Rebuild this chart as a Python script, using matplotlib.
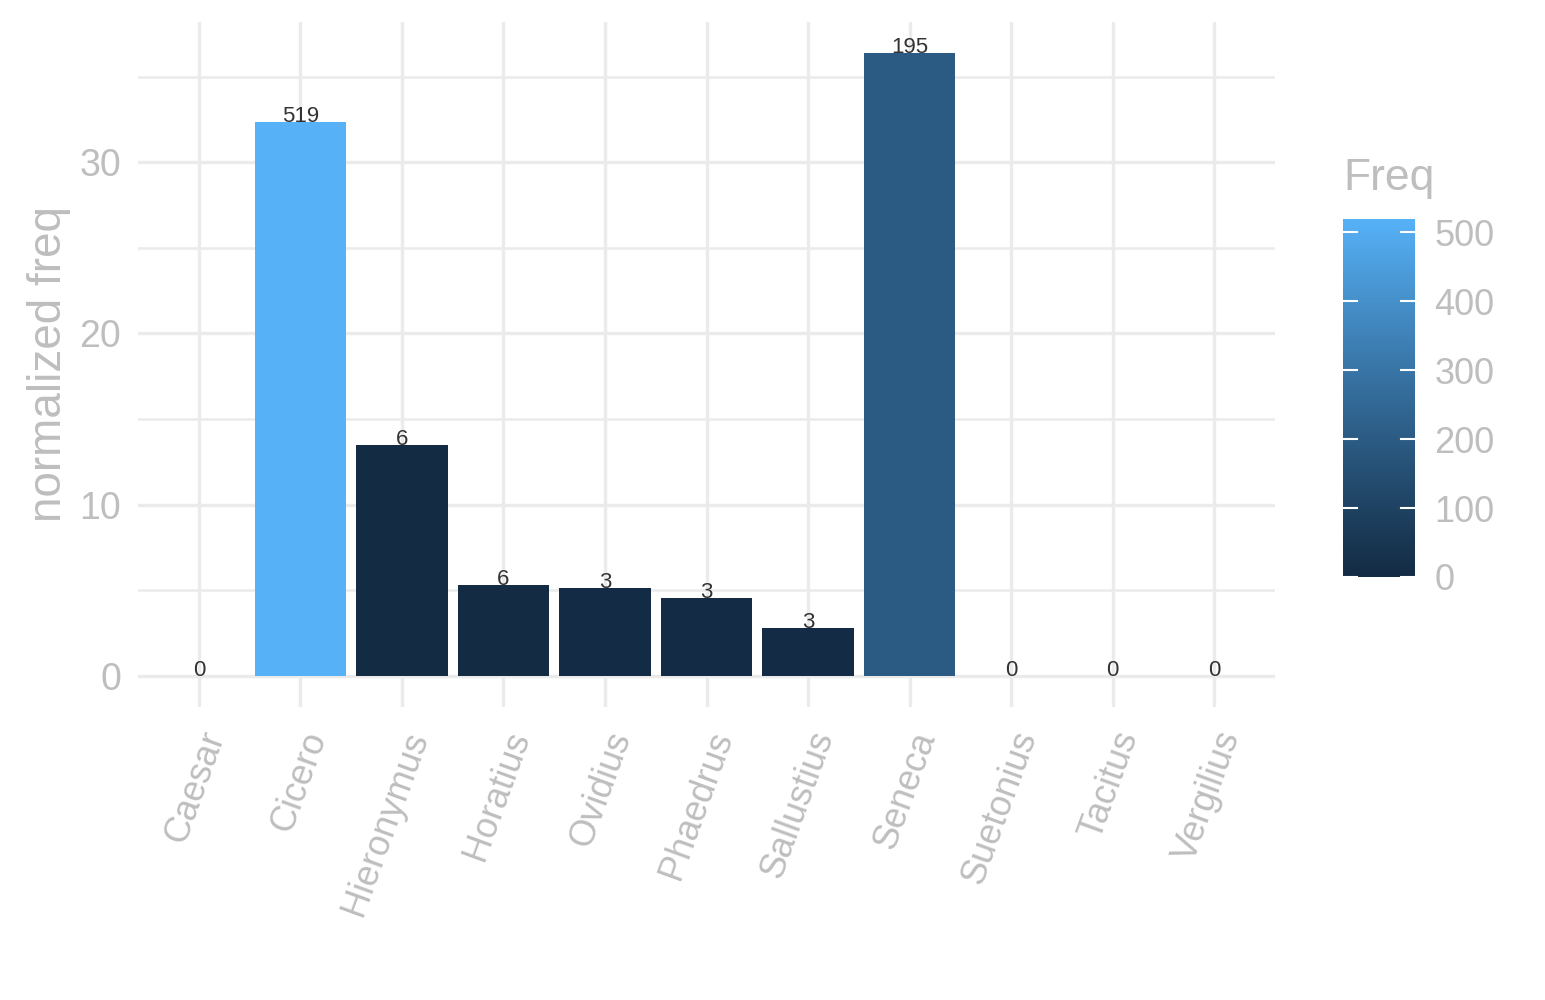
import numpy as np
import matplotlib
matplotlib.use("Agg")
import matplotlib.pyplot as plt
from matplotlib.colors import ListedColormap, Normalize
from matplotlib.ticker import MultipleLocator

authors = ["Caesar", "Cicero", "Hieronymus", "Horatius", "Ovidius", "Phaedrus",
           "Sallustius", "Seneca", "Suetonius", "Tacitus", "Vergilius"]
norm_freq = [0.0, 32.34, 13.51, 5.32, 5.13, 4.54, 2.79, 36.37, 0.0, 0.0, 0.0]
freq = [0, 519, 6, 6, 3, 3, 3, 195, 0, 0, 0]
cbar_ticks = [0, 100, 200, 300, 400, 500]
y_ticks = [0, 10, 20, 30]

plt.rcParams['font.family'] = ['Liberation Sans', 'DejaVu Sans']

# ggplot2-like gradient interpolated in Lab space
def srgb_to_lab(rgb):
    rgb = np.asarray(rgb, float)
    lin = np.where(rgb <= 0.04045, rgb / 12.92, ((rgb + 0.055) / 1.055) ** 2.4)
    M = np.array([[0.4124, 0.3576, 0.1805], [0.2126, 0.7152, 0.0722], [0.0193, 0.1192, 0.9505]])
    xyz = M @ lin
    wp = np.array([0.95047, 1.0, 1.08883])
    t = xyz / wp
    f = np.where(t > (6/29) ** 3, np.cbrt(t), t / (3 * (6/29) ** 2) + 4/29)
    return np.array([116 * f[1] - 16, 500 * (f[0] - f[1]), 200 * (f[1] - f[2])])

def lab_to_srgb(lab):
    L, a, b = lab
    fy = (L + 16) / 116
    fx = fy + a / 500
    fz = fy - b / 200
    fs = np.array([fx, fy, fz])
    t = np.where(fs > 6/29, fs ** 3, 3 * (6/29) ** 2 * (fs - 4/29))
    xyz = t * np.array([0.95047, 1.0, 1.08883])
    Minv = np.linalg.inv(np.array([[0.4124, 0.3576, 0.1805], [0.2126, 0.7152, 0.0722], [0.0193, 0.1192, 0.9505]]))
    lin = Minv @ xyz
    lin = np.clip(lin, 0, 1)
    rgb = np.where(lin <= 0.0031308, 12.92 * lin, 1.055 * lin ** (1/2.4) - 0.055)
    return np.clip(rgb, 0, 1)

def hex2rgb(h):
    h = h.lstrip('#')
    return np.array([int(h[i:i+2], 16) / 255 for i in (0, 2, 4)])

lo = srgb_to_lab(hex2rgb("#132B43"))
hi = srgb_to_lab(hex2rgb("#56B1F7"))
cols = [lab_to_srgb(lo + (hi - lo) * t) for t in np.linspace(0, 1, 256)]
cmap = ListedColormap(cols)
cnorm = Normalize(vmin=0, vmax=max(freq))

grey = "#BEBEBE"
gridc = "#EBEBEB"

fig = plt.figure(figsize=(15.45, 10), dpi=100)
ax = fig.add_axes([138/1545, 1 - 707/1000, (1275 - 138)/1545, (707 - 22)/1000])

x = np.arange(len(authors))
ax.bar(x, norm_freq, width=0.9, color=[cmap(cnorm(v)) for v in freq], zorder=2)
for xi, yv, f in zip(x, norm_freq, freq):
    ax.text(xi, yv, str(f), ha='center', va='baseline', fontsize=16, color="#333333", zorder=3)

ymax = max(norm_freq)
ax.set_ylim(-0.05 * ymax, 1.05 * ymax)
ax.set_xlim(-0.6, len(authors) - 0.4)
ax.set_yticks(y_ticks)
ax.yaxis.set_minor_locator(MultipleLocator(5))
ax.set_xticks(x)
ax.set_xticklabels(authors, rotation=70, ha='right', va='top', rotation_mode='anchor')
ax.grid(which='major', color=gridc, linewidth=2.4, zorder=0)
ax.grid(which='minor', axis='y', color=gridc, linewidth=1.8, zorder=0)
ax.set_axisbelow(True)
for s in ax.spines.values():
    s.set_visible(False)
ax.tick_params(which='both', length=0, labelcolor=grey, labelsize=26)
ax.tick_params(axis='y', labelsize=27, pad=12)
ax.tick_params(axis='x', pad=14)
ax.set_ylabel("normalized freq", color=grey, fontsize=33, labelpad=6)

# colorbar
cax = fig.add_axes([1343/1545, 1 - 577/1000, 72/1545, (577 - 219)/1000])
sm = plt.cm.ScalarMappable(norm=cnorm, cmap=cmap)
cb = fig.colorbar(sm, cax=cax)
cb.outline.set_visible(False)
cb.set_ticks(cbar_ticks)
cax.tick_params(length=0, labelcolor=grey, labelsize=26, pad=14)
for t in cbar_ticks:
    cax.plot([0, 0.2], [t, t], color='white', lw=1.5, transform=cax.get_yaxis_transform(), clip_on=False)
    cax.plot([0.8, 1.0], [t, t], color='white', lw=1.5, transform=cax.get_yaxis_transform(), clip_on=False)
fig.text(1343/1545, 1 - 190/1000, "Freq", color=grey, fontsize=32, ha='left', va='baseline')

fig.savefig("out.png", dpi=100, facecolor='white')
